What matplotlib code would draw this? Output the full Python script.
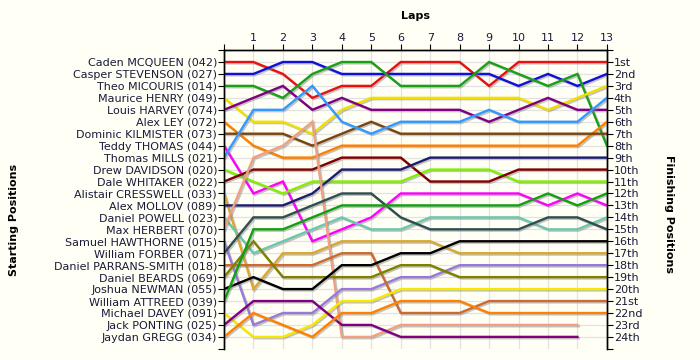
import numpy as np
import matplotlib
matplotlib.use("Agg")
import matplotlib.pyplot as plt
import matplotlib.patheffects as pe

nan = np.nan

# drivers in starting order
drivers = ["Caden MCQUEEN (042)", "Casper STEVENSON (027)", "Theo MICOURIS (014)",
           "Maurice HENRY (049)", "Louis HARVEY (074)", "Alex LEY (072)",
           "Dominic KILMISTER (073)", "Teddy THOMAS (044)", "Thomas MILLS (021)",
           "Drew DAVIDSON (020)", "Dale WHITAKER (022)", "Alistair CRESSWELL (033)",
           "Alex MOLLOV (089)", "Daniel POWELL (023)", "Max HERBERT (070)",
           "Samuel HAWTHORNE (015)", "William FORBER (071)", "Daniel PARRANS-SMITH (018)",
           "Daniel BEARDS (069)", "Joshua NEWMAN (055)", "William ATTREED (039)",
           "Michael DAVEY (091)", "Jack PONTING (025)", "Jaydan GREGG (034)"]

finish_labels = ["1st", "2nd", "3rd", "4th", "5th", "6th", "7th", "8th", "9th", "10th",
                 "11th", "12th", "13th", "14th", "15th", "16th", "17th", "18th", "19th",
                 "20th", "21st", "22nd", "23rd", "24th"]

laps = list(range(14))

# position of each driver after lap 0..13
positions = [
    [1, 1, 2, 4, 3, 3, 1, 1, 1, 3, 1, 1, 1, 1],
    [2, 2, 1, 1, 2, 2, 2, 2, 2, 2, 3, 2, 3, 2],
    [3, 3, 4, 2, 1, 1, 3, 3, 3, 1, 2, 3, 2, 8],
    [4, 6, 6, 7, 5, 4, 4, 4, 4, 4, 4, 5, 4, 3],
    [5, 4, 3, 5, 4, 5, 5, 5, 5, 6, 5, 4, 5, 5],
    [6, 8, 9, 9, 8, 8, 8, 8, 8, 8, 8, 8, 8, 6],
    [7, 7, 7, 8, 7, 6, 7, 7, 7, 7, 7, 7, 7, 7],
    [8, 12, 11, 16, 15, 14, 12, 12, 12, 12, 12, 13, 12, 13],
    [9, 5, 5, 3, 6, 7, 6, 6, 6, 5, 6, 6, 6, 4],
    [10, 11, 12, 11, 11, 11, 11, 10, 10, 10, 11, 11, 11, 11],
    [11, 10, 10, 10, 9, 9, 9, 11, 11, 11, 10, 10, 10, 10],
    [12, 20, 17, 17, 16, 16, 16, 16, 17, 17, 17, 17, 17, 17],
    [13, 13, 13, 12, 10, 10, 10, 9, 9, 9, 9, 9, 9, 9],
    [14, 17, 16, 15, 14, 15, 15, 14, 14, 14, 14, 15, 15, 14],
    [15, 9, 8, 6, 24, 24, 23, 23, 23, 23, 23, 23, 23, nan],
    [16, 23, 22, 22, 20, 20, 19, 19, 18, 18, 18, 18, 18, 18],
    [17, 14, 14, 13, 12, 12, 14, 15, 15, 15, 15, 14, 14, 15],
    [18, 18, 18, 18, 17, 17, 22, 22, 22, 21, 21, 21, 21, 21],
    [19, 16, 19, 19, 19, 19, 18, 18, 19, 19, 19, 19, 19, 19],
    [20, 19, 20, 20, 18, 18, 17, 17, 16, 16, 16, 16, 16, 16],
    [21, 15, 15, 14, 13, 13, 13, 13, 13, 13, 13, 12, 13, 12],
    [22, 24, 24, 23, 21, 21, 20, 20, 20, 20, 20, 20, 20, 20],
    [23, 21, 21, 21, 23, 23, 24, 24, 24, 24, 24, 24, 24, nan],
    [24, 22, 23, 24, 22, 22, 21, 21, 21, 22, 22, 22, 22, 22],
]

colors = ["#e81010", "#1010d8", "#18a018", "#f0e000", "#800080", "#ff8000",
          "#7a4410", "#ff00ff", "#3399ff", "#80f000", "#800000", "#d8a830",
          "#1c1c70", "#6cc8ac", "#f0a080", "#9878d8", "#2f4f4f", "#cc6a30",
          "#808000", "#000000", "#10a010", "#f8e800", "#800080", "#ff8000"]

bg = "#fffff6"
txt = "#1a1a3a"

fig = plt.figure(figsize=(7, 3.6), dpi=100, facecolor=bg)
ax = fig.add_axes([0.32, 0.031, 0.547, 0.830])
ax.set_facecolor(bg)

shadow = [pe.SimpleLineShadow(offset=(1.0, -1.0), shadow_color="#808080", alpha=0.45), pe.Normal()]
for i in range(len(drivers)):
    ax.plot(laps, positions[i], color=colors[i], lw=1.7, solid_joinstyle="miter",
            path_effects=shadow, zorder=3)

ax.set_xlim(0, 13)
ax.set_ylim(25, 0)

# grid
for x in laps:
    ax.axvline(x, color="#e2e2e2", lw=0.9, zorder=1)
for y in range(1, 25):
    ax.axhline(y, color="#e2e2e2", lw=0.9, zorder=1)

# top axis = laps
ax.xaxis.tick_top()
ax.set_xticks(laps)
ax.set_xticklabels([""] + [str(l) for l in laps[1:]], fontsize=8, color=txt)
ax.tick_params(axis="x", length=4, width=0.8, pad=1)
ax.set_xlabel("Laps", fontsize=8, fontweight="bold", labelpad=10)
ax.xaxis.set_label_position("top")

ax.set_yticks(range(0, 26))
ax.set_yticklabels([""] + drivers + [""], fontsize=8, color=txt)
ax.tick_params(axis="y", length=4, width=0.8, pad=1)
ax.set_ylabel("Starting Positions", fontsize=8, fontweight="bold")
ax.yaxis.set_label_coords(-0.535, 0.43)

ax2 = ax.twinx()
ax2.set_ylim(25, 0)
ax2.set_yticks(range(0, 26))
ax2.set_yticklabels([""] + finish_labels + [""], fontsize=8, color=txt)
ax2.tick_params(axis="y", length=4, width=0.8, pad=1)
ax2.set_ylabel("Finishing Positions", fontsize=8, fontweight="bold", rotation=-90)
ax2.yaxis.set_label_coords(1.175, 0.45)

for a in (ax, ax2):
    a.spines["bottom"].set_visible(False)
    for s in ("left", "right", "top"):
        a.spines[s].set_linewidth(1.0)

fig.savefig("out.png", dpi=100, facecolor=bg)
